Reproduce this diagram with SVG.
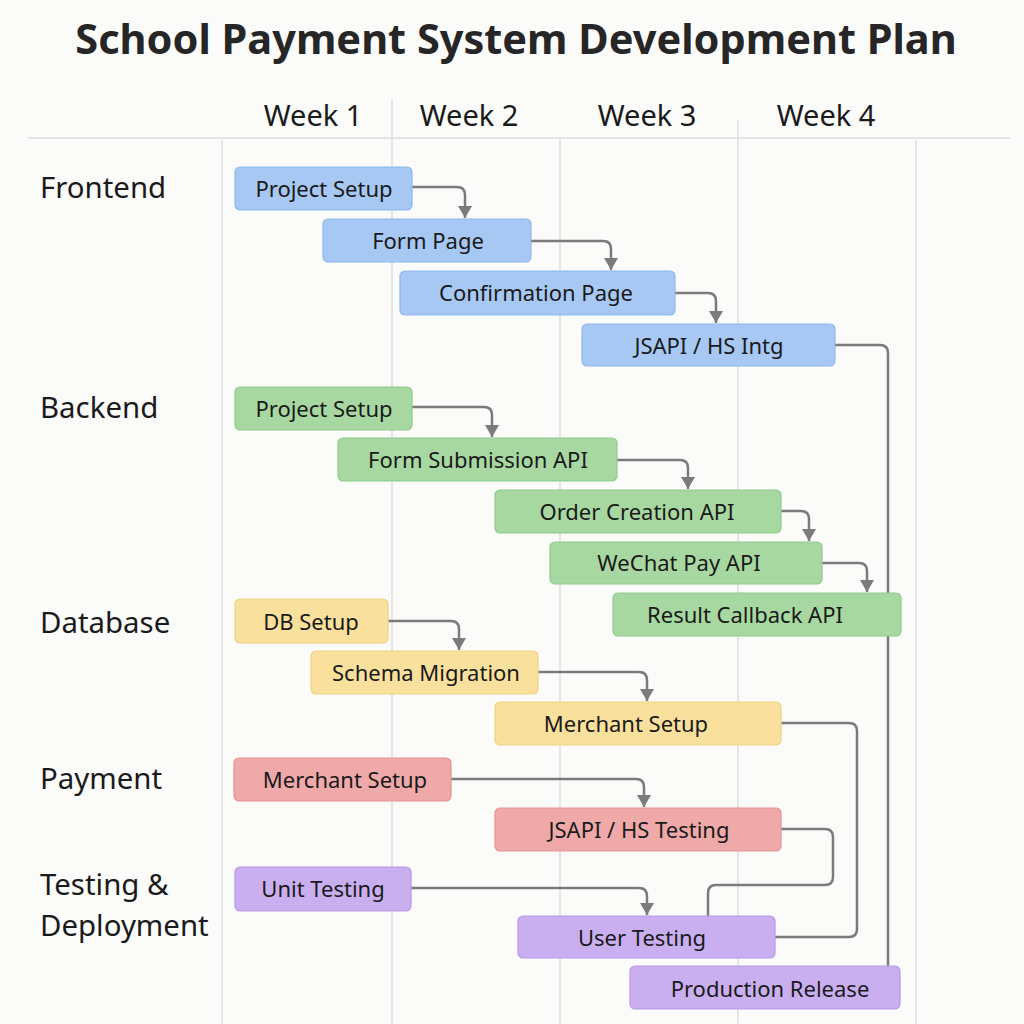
<svg xmlns="http://www.w3.org/2000/svg" width="1024" height="1024" viewBox="0 0 1024 1024">
<defs>
<marker id="arr" markerUnits="userSpaceOnUse" markerWidth="16" markerHeight="13" refX="8" refY="12" orient="0" viewBox="0 0 16 13">
<path d="M1,0 L15,0 L8,12 Z" fill="#7b7b7b"/>
</marker>
</defs>
<style>
.t{font-family:"Noto Sans","Open Sans","DejaVu Sans",sans-serif;fill:#1a1a1a}
.title{font-size:41.5px;font-weight:bold;fill:#262626}
.row{font-size:29.4px}
.wk{font-size:29px;text-anchor:middle}
.bx{font-size:22px;text-anchor:middle}
.grid{stroke:#dedede;stroke-width:1.5}
.c{fill:none;stroke:#7b7b7b;stroke-width:2.5;stroke-linejoin:round}
.blue{fill:#a6c8f2;stroke:#8eb8ee;stroke-width:1.2}
.green{fill:#a8d8a1;stroke:#8fcb89;stroke-width:1.2}
.yellow{fill:#f9e09c;stroke:#efd383;stroke-width:1.2}
.red{fill:#efa9a9;stroke:#e69393;stroke-width:1.2}
.purple{fill:#c9aff0;stroke:#b89ae6;stroke-width:1.2}
</style>
<rect width="1024" height="1024" fill="#fbfbfa"/>
<text class="t title" x="516" y="54" text-anchor="middle">School Payment System Development Plan</text>
<g id="grid">
<line class="grid" x1="28" y1="138" x2="1010" y2="138"/>
<line class="grid" x1="222" y1="140" x2="222" y2="1024"/>
<line class="grid" x1="392" y1="100" x2="392" y2="1024"/>
<line class="grid" x1="560" y1="140" x2="560" y2="1024"/>
<line class="grid" x1="738" y1="120" x2="738" y2="1024"/>
<line class="grid" x1="916" y1="140" x2="916" y2="1024"/>
</g>
<g id="weeks">
<text class="t wk" x="313" y="126">Week 1</text>
<text class="t wk" x="469" y="126">Week 2</text>
<text class="t wk" x="647" y="126">Week 3</text>
<text class="t wk" x="826" y="126">Week 4</text>
</g>
<g id="rows">
<text class="t row" x="40" y="198">Frontend</text>
<text class="t row" x="40" y="418">Backend</text>
<text class="t row" x="40" y="633">Database</text>
<text class="t row" x="40" y="789">Payment</text>
<text class="t row" x="40" y="895">Testing &amp;</text>
<text class="t row" x="40" y="936">Deployment</text>
</g>
<g id="connectors">
<path class="c" d="M412,187 H457 Q465,187 465,195 V218" marker-end="url(#arr)"/>
<path class="c" d="M531,241 H603 Q611,241 611,249 V270" marker-end="url(#arr)"/>
<path class="c" d="M675,293 H708 Q716,293 716,301 V323" marker-end="url(#arr)"/>
<path class="c" d="M835,345 H880 Q888,345 888,353 V966"/>
<path class="c" d="M412,407 H484 Q492,407 492,415 V437" marker-end="url(#arr)"/>
<path class="c" d="M617,460 H680 Q688,460 688,468 V489" marker-end="url(#arr)"/>
<path class="c" d="M781,511 H801 Q809,511 809,519 V541" marker-end="url(#arr)"/>
<path class="c" d="M822,563 H859 Q867,563 867,571 V592" marker-end="url(#arr)"/>
<path class="c" d="M388,621 H451 Q459,621 459,629 V650" marker-end="url(#arr)"/>
<path class="c" d="M538,672 H639 Q647,672 647,680 V701" marker-end="url(#arr)"/>
<path class="c" d="M781,723 H849 Q857,723 857,731 V929 Q857,937 849,937 H775"/>
<path class="c" d="M451,779 H636 Q644,779 644,787 V807" marker-end="url(#arr)"/>
<path class="c" d="M781,829 H825 Q833,829 833,837 V877 Q833,885 825,885 H716 Q708,885 708,893 V916"/>
<path class="c" d="M411,888 H639 Q647,888 647,896 V915" marker-end="url(#arr)"/>
</g>
<g id="fe-setup"><rect class="blue" x="235" y="167" width="177" height="43" rx="5"/><text class="t bx" x="324" y="197">Project Setup</text></g>
<g id="fe-form"><rect class="blue" x="323" y="219" width="208" height="43" rx="5"/><text class="t bx" x="428" y="249">Form Page</text></g>
<g id="fe-confirm"><rect class="blue" x="400" y="271" width="275" height="44" rx="5"/><text class="t bx" x="536" y="301">Confirmation Page</text></g>
<g id="fe-jsapi"><rect class="blue" x="582" y="324" width="253" height="42" rx="5"/><text class="t bx" x="709" y="354">JSAPI / HS Intg</text></g>
<g id="be-setup"><rect class="green" x="235" y="387" width="177" height="43" rx="5"/><text class="t bx" x="324" y="417">Project Setup</text></g>
<g id="be-form"><rect class="green" x="338" y="438" width="279" height="43" rx="5"/><text class="t bx" x="478" y="468">Form Submission API</text></g>
<g id="be-order"><rect class="green" x="495" y="490" width="286" height="43" rx="5"/><text class="t bx" x="637" y="520">Order Creation API</text></g>
<g id="be-wechat"><rect class="green" x="550" y="542" width="272" height="42" rx="5"/><text class="t bx" x="679" y="571">WeChat Pay API</text></g>
<g id="be-callback"><rect class="green" x="613" y="593" width="288" height="43" rx="5"/><text class="t bx" x="745" y="623">Result Callback API</text></g>
<g id="db-setup"><rect class="yellow" x="235" y="599" width="153" height="44" rx="5"/><text class="t bx" x="311" y="630">DB Setup</text></g>
<g id="db-schema"><rect class="yellow" x="311" y="651" width="227" height="43" rx="5"/><text class="t bx" x="426" y="681">Schema Migration</text></g>
<g id="db-merchant"><rect class="yellow" x="495" y="702" width="286" height="43" rx="5"/><text class="t bx" x="626" y="732">Merchant Setup</text></g>
<g id="pay-merchant"><rect class="red" x="234" y="758" width="217" height="43" rx="5"/><text class="t bx" x="345" y="788">Merchant Setup</text></g>
<g id="pay-jsapi"><rect class="red" x="495" y="808" width="286" height="43" rx="5"/><text class="t bx" x="639" y="838">JSAPI / HS Testing</text></g>
<g id="t-unit"><rect class="purple" x="235" y="867" width="176" height="44" rx="5"/><text class="t bx" x="323" y="897">Unit Testing</text></g>
<g id="t-user"><rect class="purple" x="518" y="916" width="257" height="42" rx="5"/><text class="t bx" x="642" y="946">User Testing</text></g>
<g id="t-release"><rect class="purple" x="630" y="966" width="270" height="43" rx="5"/><text class="t bx" x="770" y="997">Production Release</text></g>
</svg>
